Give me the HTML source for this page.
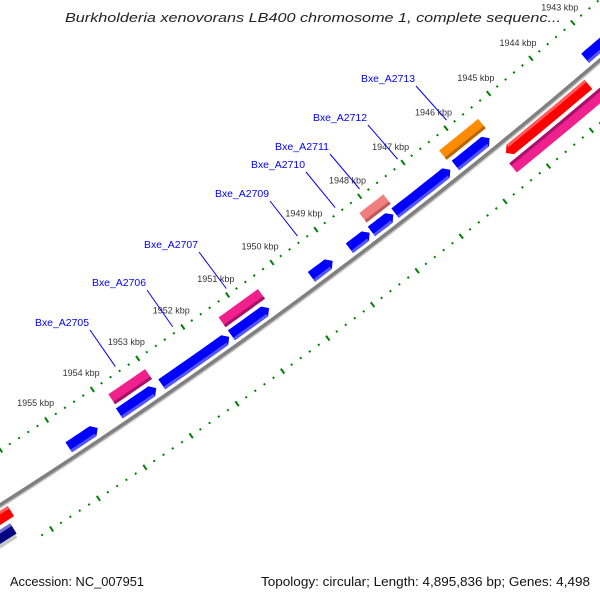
<!DOCTYPE html>
<html><head><meta charset="utf-8"><style>
html,body{margin:0;padding:0;background:#fff;}
svg{display:block;font-family:"Liberation Sans",sans-serif;}
</style></head>
<body>
<svg id="chart" width="600" height="600" viewBox="0 0 600 600" xmlns="http://www.w3.org/2000/svg">
<rect width="600" height="600" fill="#fff"/>
<g id="ticks"></g>
<g id="backbone"></g>
<g id="genes"></g>
<g id="labels"></g>
<text x="313" y="22" text-anchor="middle" font-size="13" font-style="italic" fill="#222" textLength="496" lengthAdjust="spacingAndGlyphs">Burkholderia xenovorans LB400 chromosome 1, complete sequenc...</text>
<text x="10" y="586" font-size="12.5" fill="#111" textLength="134" lengthAdjust="spacingAndGlyphs">Accession: NC_007951</text>
<text x="590" y="586" text-anchor="end" font-size="12.5" fill="#111" textLength="329" lengthAdjust="spacingAndGlyphs">Topology: circular; Length: 4,895,836 bp; Genes: 4,498</text>
</svg>
<script>
// ---- data ----
const geneStart = [1942.5,1945.50,1946.41,1947.72,1948.26,1949.10,1950.53,1951.42,1953.03,1954.31, 1945.44,1947.64,1950.49,1953.00, 1943.51,1956.44, 1942.0,1956.57];
const geneEnd   = [1943.25,1946.29,1947.68,1948.22,1948.72,1949.58,1951.37,1952.91,1953.84,1954.94, 1946.35,1948.19,1951.37,1953.81, 1945.44,1957.6, 1945.51,1957.6];
const geneStrand = [1,1,1,1,1,1,1,1,1,1, 1,1,1,1, -1,-1, -1,-1];
const geneRow    = [0,0,0,0,0,0,0,0,0,0, 1,1,1,1, 0,0, 1,1];
const geneArrow  = [1,1,1,1,1,1,1,1,1,1, 0,0,0,0, 1,1, 0,0];
const geneKind   = ["cds","cds","cds","cds","cds","cds","cds","cds","cds","cds","orange","salmon","pink","pink","red","red","pink","navy"];
const labelNames = ["Bxe_A2713","Bxe_A2712","Bxe_A2711","Bxe_A2710","Bxe_A2709","Bxe_A2707","Bxe_A2706","Bxe_A2705"];
const labelKbp   = [1945.90,1947.04,1947.92,1948.48,1949.34,1950.95,1952.15,1953.42];
const tickKbpLabels = ["1943 kbp","1944 kbp","1945 kbp","1946 kbp","1947 kbp","1948 kbp","1949 kbp","1950 kbp","1951 kbp","1952 kbp","1953 kbp","1954 kbp","1955 kbp"];
const tickKbpValues = [1943,1944,1945,1946,1947,1948,1949,1950,1951,1952,1953,1954,1955];

// ---- layout ----
const labelTextX = [361,313,275,251,215,144,92,35];
const labelTextY = [82,121,150,168,197,248,286,326];
const palette = {cds:["#0000ff","#5555ff"],orange:["#ff8c00","#b86400"],salmon:["#f08080","#c05a5a"],pink:["#f0208c","#a8106a"],red:["#ff0000","#ff5a5a"],navy:["#000080","#7070d0"]};
const NS="http://www.w3.org/2000/svg";
function circle3(a,b,c){
  const d=2*(a[0]*(b[1]-c[1])+b[0]*(c[1]-a[1])+c[0]*(a[1]-b[1]));
  const s=p=>p[0]*p[0]+p[1]*p[1];
  const cx=(s(a)*(b[1]-c[1])+s(b)*(c[1]-a[1])+s(c)*(a[1]-b[1]))/d;
  const cy=(s(a)*(c[0]-b[0])+s(b)*(a[0]-c[0])+s(c)*(b[0]-a[0]))/d;
  return {cx,cy,r:Math.hypot(a[0]-cx,a[1]-cy)};
}
const C=circle3([0,505],[300,299],[600,60]);
const thA=Math.atan2(23-C.cy,573-C.cx), thB=Math.atan2(422-C.cy,48-C.cx);
function theta(k){return thA+(k-1943)*(thB-thA)/12;}
function pt(k,d){const t=theta(k),r=C.r-d;return [C.cx+r*Math.cos(t),C.cy+r*Math.sin(t)];}
function el(tag,attrs,parent){const e=document.createElementNS(NS,tag);for(const a in attrs)e.setAttribute(a,attrs[a]);parent.appendChild(e);return e;}
function arcPts(k1,k2,d,n){const p=[];for(let i=0;i<=n;i++)p.push(pt(k1+(k2-k1)*i/n,d));return p;}
function ps(p){return p.map(q=>q[0].toFixed(1)+","+q[1].toFixed(1)).join(" ");}

// backbone
const bb=document.getElementById("backbone");
const bpath=arcPts(1941,1957.5,0,40);
const bl1=el("polyline",{points:ps(arcPts(1941,1957.5,-2.2,40)),fill:"none",stroke:"#c4c4c4","stroke-width":2},bb);


const bl=el("polyline",{points:ps(bpath),fill:"none",stroke:"#808080","stroke-width":3.5},bb);



// ticks
const tg=document.getElementById("ticks");
[46,-48].forEach(function(off){
  for(let i=0;i<=70;i++){
    const k=1942.2+i*0.2; const major=Math.abs(k-Math.round(k))<1e-6;
    const L=major?3:1;
    const a=pt(k,off-L),b=pt(k,off+L);
    const t=el("line",{x1:a[0],y1:a[1],x2:b[0],y2:b[1],stroke:"#008000","stroke-width":2},tg);
    
    
  }
});
tickKbpValues.forEach(function(k,i){
  const p=pt(k,66);
  const t=el("text",{x:p[0],y:p[1]+3,"text-anchor":"middle","font-size":9,fill:"#333"},tg);
  t.textContent=tickKbpLabels[i];
  
  
});

// genes
const gg=document.getElementById("genes");
const HK=0.1;
geneStart.forEach(function(k1,i){
  const k2=geneEnd[i];
  const s=geneStrand[i];
  const d1=s*(geneRow[i]?21:5), d2=s*(geneRow[i]?33:17);
  const col=palette[geneKind[i]];
  const tipLow=geneArrow[i]&&s>0, tipHigh=geneArrow[i]&&s<0;
  const a=tipLow?k1+HK:k1, b=tipHigh?k2-HK:k2;
  let pts=arcPts(a,b,d2,6).concat(arcPts(b,a,d1,6).reverse().reverse());
  pts=arcPts(a,b,d2,6);
  if(tipHigh)pts.push(pt(k2,(d1+d2)/2));
  pts=pts.concat(arcPts(b,a,d1,6));
  if(tipLow)pts.push(pt(k1,(d1+d2)/2));
  const g=el("polygon",{points:ps(pts),fill:col[0]},gg);
  
  
  const sd=s*3;
  const sp=arcPts(a,b,d1+sd,6).concat(arcPts(b,a,d1,6));
  const st=el("polygon",{points:ps(sp),fill:col[1]},gg);
  
  
});
// grey shadow strip under navy gene
const gs=el("polygon",{points:ps(arcPts(1956.6,1957.6,-33,4).concat(arcPts(1957.6,1956.6,-37,4))),fill:"#c8c8c8"},gg);



// labels
const lg=document.getElementById("labels");
labelNames.forEach(function(n,i){
  const e=pt(labelKbp[i],52);
  const sx=labelTextX[i]+55, sy=labelTextY[i]+4;
  const ln=el("line",{x1:sx,y1:sy,x2:e[0],y2:e[1],stroke:"#0000ff","stroke-width":1},lg);
  
  
  const t=el("text",{x:labelTextX[i],y:labelTextY[i],"font-size":10.5,fill:"#0000ff",textLength:54,lengthAdjust:"spacingAndGlyphs"},lg);
  t.textContent=n;
  
  
});
</script>
</body></html>
